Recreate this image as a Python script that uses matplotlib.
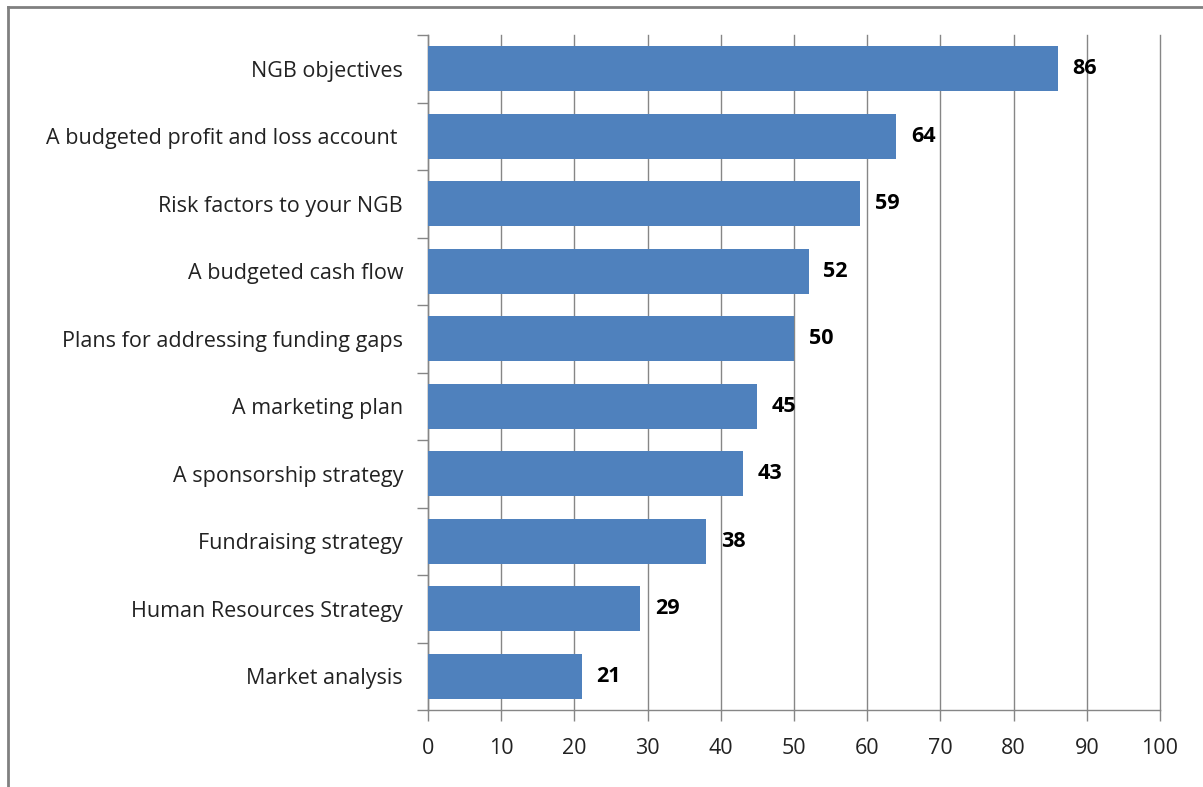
import matplotlib.pyplot as plt
from matplotlib.lines import Line2D

# --- Data ---
categories = [
    "NGB objectives",
    "A budgeted profit and loss account ",
    "Risk factors to your NGB",
    "A budgeted cash flow",
    "Plans for addressing funding gaps",
    "A marketing plan",
    "A sponsorship strategy",
    "Fundraising strategy",
    "Human Resources Strategy",
    "Market analysis",
]
values = [86, 64, 59, 52, 50, 45, 43, 38, 29, 21]
xticks = [0, 10, 20, 30, 40, 50, 60, 70, 80, 90, 100]

plt.rcParams['font.family'] = ['Open Sans', 'DejaVu Sans']

fig = plt.figure(figsize=(12.03, 7.87), dpi=100)
ax = fig.add_axes([428 / 1203, 1 - 710 / 787, 732 / 1203, 675 / 787])

pos = list(range(len(categories)))[::-1]
ax.barh(pos, values, height=0.67, color='#4F81BD', zorder=3)
for p, v in zip(pos, values):
    ax.text(v + 2, p, str(v), va='center', ha='left', fontsize=15.5,
            fontweight='bold', color='black', zorder=4)

ax.set_xlim(0, 100)
ax.set_ylim(-0.5, len(categories) - 0.5)
ax.set_xticks(xticks)
ax.set_xticklabels([str(t) for t in xticks], fontsize=15.5, color='#222222')
ax.set_yticks(pos)
ax.set_yticklabels(categories, fontsize=15.5, color='#222222')

# category boundary ticks instead of centred ones
ax.set_yticks([p - 0.5 for p in range(len(categories) + 1)], minor=True)
ax.tick_params(axis='y', which='major', length=0, pad=18)
ax.tick_params(axis='y', which='minor', length=8, color='#868686', width=1)
ax.tick_params(axis='x', length=8, color='#868686', width=1, pad=12)

ax.grid(axis='x', color='#868686', linewidth=1, zorder=0)
for gl in ax.get_xgridlines():
    gl.set_clip_on(False)
for s in ['top', 'right']:
    ax.spines[s].set_visible(False)
for s in ['left', 'bottom']:
    ax.spines[s].set_color('#868686')
    ax.spines[s].set_linewidth(1)

# outer frame (top and left visible)
fig.add_artist(Line2D([8 / 1203, 1], [1 - 7 / 787, 1 - 7 / 787],
                      transform=fig.transFigure, color='#808080', linewidth=2))
fig.add_artist(Line2D([8 / 1203, 8 / 1203], [0, 1 - 7 / 787],
                      transform=fig.transFigure, color='#808080', linewidth=2))

fig.savefig('out.png', dpi=100)
